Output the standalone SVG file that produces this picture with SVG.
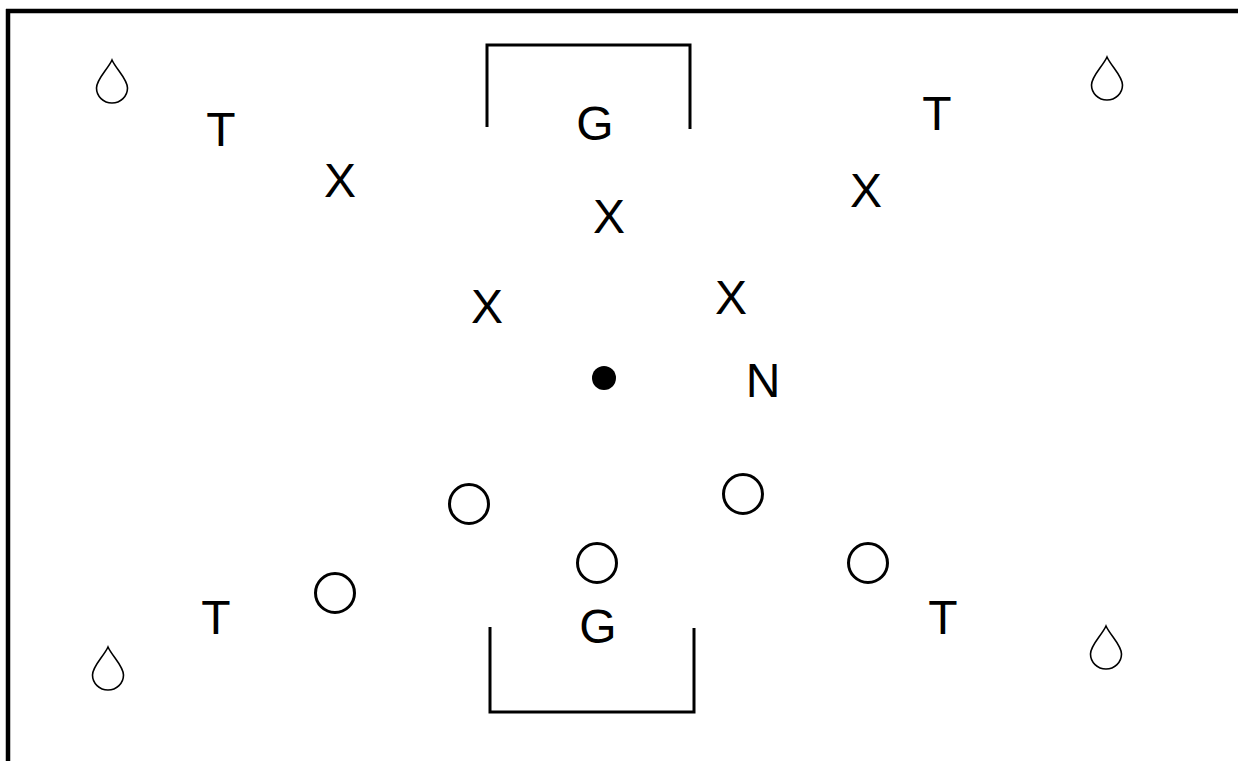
<svg xmlns="http://www.w3.org/2000/svg" width="1238" height="761" viewBox="0 0 1238 761">
<style>
.t{font-family:"Liberation Sans",Arial,sans-serif;font-size:48px;fill:#000;text-anchor:middle}
.ln{fill:none;stroke:#000;stroke-width:3}
.drop{fill:#fff;stroke:#000;stroke-width:1.6}
.ring{fill:#fff;stroke:#000;stroke-width:3}
</style>
<defs>
<path id="drop" d="M0,0 C-4,9 -15.5,19 -15.5,28 A15.5,15 0 0 0 15.5,28 C15.5,19 4,9 0,0 Z"/>
</defs>
<rect width="1238" height="761" fill="#fff"/>
<g id="border">
<line x1="8" y1="9" x2="8" y2="761" stroke="#000" stroke-width="4.5"/>
<line x1="6" y1="11" x2="1238" y2="11" stroke="#000" stroke-width="4.5"/>
</g>
<g id="goal-top"><polyline class="ln" points="487,127 487,45 690,45 690,129"/><text class="t" x="595" y="140">G</text></g>
<g id="goal-bottom"><polyline class="ln" points="490,627 490,712 694,712 694,628"/><text class="t" x="598" y="643">G</text></g>
<g id="drops">
<use href="#drop" class="drop" x="112" y="60"/>
<use href="#drop" class="drop" x="1107" y="57"/>
<use href="#drop" class="drop" x="108" y="647"/>
<use href="#drop" class="drop" x="1106" y="626"/>
</g>
<g id="t-marks">
<text class="t" x="221" y="146">T</text>
<text class="t" x="937" y="130">T</text>
<text class="t" x="216" y="634">T</text>
<text class="t" x="943" y="634">T</text>
</g>
<g id="x-players">
<text class="t" x="340" y="197">X</text>
<text class="t" x="609" y="233">X</text>
<text class="t" x="487" y="323">X</text>
<text class="t" x="731" y="314">X</text>
<text class="t" x="866" y="207">X</text>
</g>
<g id="ball"><circle cx="604" cy="378" r="12" fill="#000"/></g>
<g id="n-mark"><text class="t" x="763" y="397">N</text></g>
<g id="o-players">
<circle class="ring" cx="469" cy="504" r="19.5"/>
<circle class="ring" cx="743" cy="494" r="19.5"/>
<circle class="ring" cx="597" cy="563" r="19.5"/>
<circle class="ring" cx="335" cy="593" r="19.5"/>
<circle class="ring" cx="868" cy="563" r="19.5"/>
</g>
</svg>
